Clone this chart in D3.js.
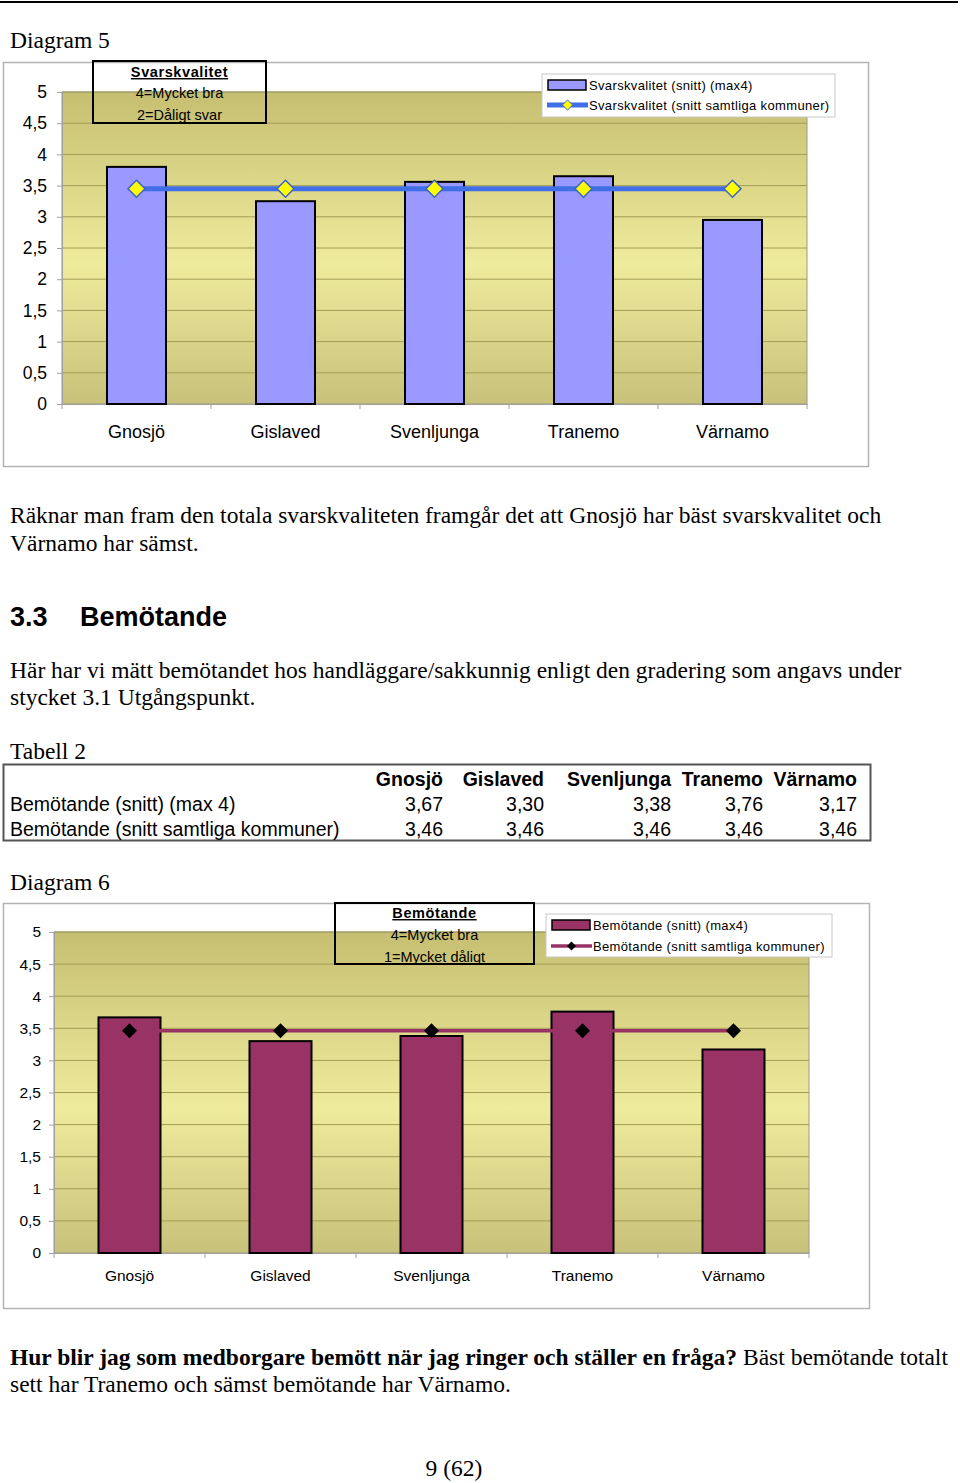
<!DOCTYPE html>
<html><head><meta charset="utf-8">
<script src="https://cdn.jsdelivr.net/npm/d3@7"></script>
<style>
html,body{margin:0;padding:0;background:#fff;}
svg{display:block;}
</style></head>
<body>
<script>
// ---- data ----
const categories = ["Gnosjö","Gislaved","Svenljunga","Tranemo","Värnamo"];
const svarskvalitet = [3.80, 3.25, 3.56, 3.65, 2.95];
const svarskvalitetAll = [3.45, 3.45, 3.45, 3.45, 3.45];
const bemotande = [3.67, 3.30, 3.38, 3.76, 3.17];
const bemotandeAll = [3.46, 3.46, 3.46, 3.46, 3.46];
const yTicks = [0, 0.5, 1, 1.5, 2, 2.5, 3, 3.5, 4, 4.5, 5];
const tableRows = ["Bemötande (snitt) (max 4)", "Bemötande (snitt samtliga kommuner)"];

const serif = "'Liberation Serif','Times New Roman',serif";
const sans = "'Liberation Sans',Arial,sans-serif";
const fmt = v => String(v).replace(".", ",");
const fmt2 = v => v.toFixed(2).replace(".", ",");

const svg = d3.select("body").append("svg").attr("width", 960).attr("height", 1483);
const defs = svg.append("defs");
const grad = defs.append("linearGradient").attr("id","plotbg").attr("x1",0).attr("y1",0).attr("x2",0).attr("y2",1);
grad.append("stop").attr("offset","0%").attr("stop-color","#c6bf72");
grad.append("stop").attr("offset","55%").attr("stop-color","#efeb9c");
grad.append("stop").attr("offset","100%").attr("stop-color","#c8c17a");

// top rule
svg.append("line").attr("x1",0).attr("x2",958).attr("y1",2).attr("y2",2).attr("stroke","#000").attr("stroke-width",2);

function text(x, y, s, opts = {}) {
  return svg.append("text").attr("x", x).attr("y", y)
    .attr("font-family", opts.family || serif)
    .attr("font-size", opts.size || 23.5)
    .attr("font-weight", opts.weight || "normal")
    .attr("text-anchor", opts.anchor || "start")
    .attr("fill", "#000")
    .text(s);
}

function chart(cfg) {
  const g = svg.append("g");
  // outer box
  g.append("rect").attr("x", cfg.box[0]+0.5).attr("y", cfg.box[1]+0.5)
    .attr("width", cfg.box[2]-cfg.box[0]).attr("height", cfg.box[3]-cfg.box[1])
    .attr("fill","#fff").attr("stroke","#b4b4b4").attr("stroke-width",1.5);
  const x = d3.scaleBand().domain(categories).range([cfg.left, cfg.right]);
  const y = d3.scaleLinear().domain([0,5]).range([cfg.bottom, cfg.top]);
  // plot area
  g.append("rect").attr("x", cfg.left).attr("y", cfg.top).attr("width", cfg.right-cfg.left)
    .attr("height", cfg.bottom-cfg.top).attr("fill","url(#plotbg)").attr("stroke","#9a9a8a").attr("stroke-width",1);
  // gridlines
  g.append("g").selectAll("line").data(yTicks.filter(t=>t>0)).join("line")
    .attr("x1", cfg.left).attr("x2", cfg.right).attr("y1", d=>y(d)).attr("y2", d=>y(d))
    .attr("stroke","#a39c55").attr("stroke-width",1);
  // y axis
  const ya = g.append("g").attr("transform",`translate(${cfg.left},0)`)
    .call(d3.axisLeft(y).tickValues(yTicks).tickFormat(fmt).tickSize(5).tickPadding(cfg.yPad));
  ya.select(".domain").attr("stroke","#a0a0a0");
  ya.selectAll(".tick line").attr("stroke","#a0a0a0");
  ya.selectAll("text").attr("font-family", sans).attr("font-size", cfg.tickSize).attr("fill","#000");
  // x axis
  const xa = g.append("g").attr("transform",`translate(0,${cfg.bottom})`)
    .call(d3.axisBottom(x).tickSize(0).tickPadding(cfg.xPad));
  xa.select(".domain").attr("stroke","#a0a0a0");
  xa.selectAll("text").attr("font-family", sans).attr("font-size", cfg.xSize).attr("fill","#000");
  g.append("g").selectAll("line").data(categories.slice(1).concat(["__end"])).join("line")
    .attr("x1", (d,i)=> i<4 ? x(d) : cfg.right).attr("x2",(d,i)=> i<4 ? x(d) : cfg.right)
    .attr("y1", cfg.bottom).attr("y2", cfg.bottom+5).attr("stroke","#a0a0a0");
  g.append("line").attr("x1",cfg.left).attr("x2",cfg.left).attr("y1",cfg.bottom).attr("y2",cfg.bottom+5).attr("stroke","#a0a0a0");
  // bars
  const bw = cfg.barW;
  g.append("g").selectAll("rect").data(cfg.bars).join("rect")
    .attr("x", (d,i)=> x(categories[i]) + x.bandwidth()/2 - bw/2)
    .attr("y", d=>y(d)).attr("width", bw).attr("height", d=>y(0)-y(d))
    .attr("fill", cfg.barColor).attr("stroke","#000").attr("stroke-width",2);
  // line
  const line = d3.line().x((d,i)=> x(categories[i]) + x.bandwidth()/2).y(d=>y(d));
  g.append("path").datum(cfg.line).attr("d", line).attr("fill","none")
    .attr("stroke", cfg.lineColor).attr("stroke-width", cfg.lineW);
  const ds = cfg.diam;
  g.append("g").selectAll("path").data(cfg.line).join("path")
    .attr("d", `M0,${-ds}L${ds},0L0,${ds}L${-ds},0Z`)
    .attr("transform",(d,i)=>`translate(${x(categories[i]) + x.bandwidth()/2},${y(d)})`)
    .attr("fill", cfg.markFill).attr("stroke", cfg.markStroke).attr("stroke-width", cfg.markStroke==="none"?0:1.5);
  // title box
  const tb = cfg.titleBox;
  g.append("rect").attr("x", tb[0]).attr("y", tb[1]).attr("width", tb[2]-tb[0]).attr("height", tb[3]-tb[1])
    .attr("fill","none").attr("stroke","#000").attr("stroke-width",2);
  const cx = (tb[0]+tb[2])/2;
  cfg.titleLines.forEach((t,i)=>{
    const tt = g.append("text").attr("x", cx).attr("y", cfg.titleY[i]).attr("text-anchor","middle")
      .attr("font-family", sans).attr("font-size", cfg.titleSize).attr("fill","#000").text(t);
    if (i===0) tt.attr("font-weight","bold").attr("text-decoration","underline").attr("letter-spacing",0.6);
  });
  // legend
  const lb = cfg.legBox;
  g.append("rect").attr("x", lb[0]).attr("y", lb[1]).attr("width", lb[2]-lb[0]).attr("height", lb[3]-lb[1])
    .attr("fill","#fff").attr("stroke","#c8c8c8").attr("stroke-width",1);
  const ly1 = cfg.legY[0], ly2 = cfg.legY[1];
  g.append("rect").attr("x", lb[0]+6).attr("y", ly1-5).attr("width", 38).attr("height", 10)
    .attr("fill", cfg.barColor).attr("stroke","#000").attr("stroke-width",1.5);
  g.append("line").attr("x1", lb[0]+5).attr("x2", lb[0]+46).attr("y1", ly2).attr("y2", ly2)
    .attr("stroke", cfg.lineColor).attr("stroke-width", cfg.lineW);
  const ld = cfg.diam*0.6;
  g.append("path").attr("d", `M0,${-ld}L${ld},0L0,${ld}L${-ld},0Z`)
    .attr("transform",`translate(${lb[0]+25.5},${ly2})`)
    .attr("fill", cfg.markFill).attr("stroke", cfg.markStroke).attr("stroke-width", cfg.markStroke==="none"?0:1);
  cfg.legText.forEach((t,i)=>{
    g.append("text").attr("x", lb[0]+47).attr("y", cfg.legY[i]).attr("dy","0.35em")
      .attr("font-family", sans).attr("font-size", cfg.legSize).attr("letter-spacing",0.35).attr("fill","#000").text(t);
  });
}

// ---- Diagram 5 ----
text(10, 48, "Diagram 5");
chart({
  box:[3,62,868,466], left:62, right:807, top:92, bottom:404,
  yPad:10, tickSize:17.5, xPad:21, xSize:18,
  bars: svarskvalitet, line: svarskvalitetAll, barW:59,
  barColor:"#9999ff", lineColor:"#3f6ee6", lineW:5, diam:8.5, markFill:"#ffff00", markStroke:"#3f62c8",
  titleBox:[93,61,266,123], titleLines:["Svarskvalitet","4=Mycket bra","2=Dåligt svar"], titleY:[77,98,120], titleSize:14.5,
  legBox:[542,74,835,117], legY:[85,105],
  legText:["Svarskvalitet (snitt) (max4)","Svarskvalitet (snitt samtliga kommuner)"], legSize:13
});

text(10, 523, "Räknar man fram den totala svarskvaliteten framgår det att Gnosjö har bäst svarskvalitet och");
text(10, 551, "Värnamo har sämst.");
text(10, 626, "3.3", {family:sans, size:27, weight:"bold"});
text(80, 626, "Bemötande", {family:sans, size:27, weight:"bold"});
text(10, 678, "Här har vi mätt bemötandet hos handläggare/sakkunnig enligt den gradering som angavs under");
text(10, 705, "stycket 3.1 Utgångspunkt.");
text(10, 759, "Tabell 2");

// ---- Tabell 2 ----
svg.append("rect").attr("x",3.5).attr("y",764.5).attr("width",867).attr("height",76)
  .attr("fill","none").attr("stroke","#555").attr("stroke-width",2);
const colRight = [443, 544, 671, 763, 857];
svg.append("g").selectAll("text").data(categories).join("text")
  .attr("x",(d,i)=>colRight[i]).attr("y",786).attr("text-anchor","end")
  .attr("font-family",sans).attr("font-size",19.5).attr("font-weight","bold").text(d=>d);
[bemotande, bemotandeAll].forEach((row, r)=>{
  const yy = 811 + r*25;
  text(10, yy, tableRows[r], {family:sans, size:19.5});
  svg.append("g").selectAll("text").data(row).join("text")
    .attr("x",(d,i)=>colRight[i]).attr("y",yy).attr("text-anchor","end")
    .attr("font-family",sans).attr("font-size",19.5).text(d=>fmt2(d));
});

text(10, 890, "Diagram 6");
// ---- Diagram 6 ----
chart({
  box:[3,903,869,1308], left:54, right:809, top:932, bottom:1253,
  yPad:8, tickSize:15.5, xPad:17, xSize:15.5,
  bars: bemotande, line: bemotandeAll, barW:62,
  barColor:"#993366", lineColor:"#993366", lineW:3.5, diam:7.5, markFill:"#000", markStroke:"none",
  titleBox:[335,903,534,964], titleLines:["Bemötande","4=Mycket bra","1=Mycket dåligt"], titleY:[918,940,962], titleSize:14.5,
  legBox:[546,914,832,957], legY:[925,946],
  legText:["Bemötande (snitt) (max4)","Bemötande (snitt samtliga kommuner)"], legSize:13
});

// bottom paragraph
const p = svg.append("text").attr("x",10).attr("y",1365).attr("font-family",serif).attr("font-size",23.5).attr("fill","#000");
p.append("tspan").attr("font-weight","bold").text("Hur blir jag som medborgare bemött när jag ringer och ställer en fråga?");
p.append("tspan").text(" Bäst bemötande totalt");
text(10, 1392, "sett har Tranemo och sämst bemötande har Värnamo.");
text(454, 1476, "9 (62)", {anchor:"middle"});
</script>
</body></html>
